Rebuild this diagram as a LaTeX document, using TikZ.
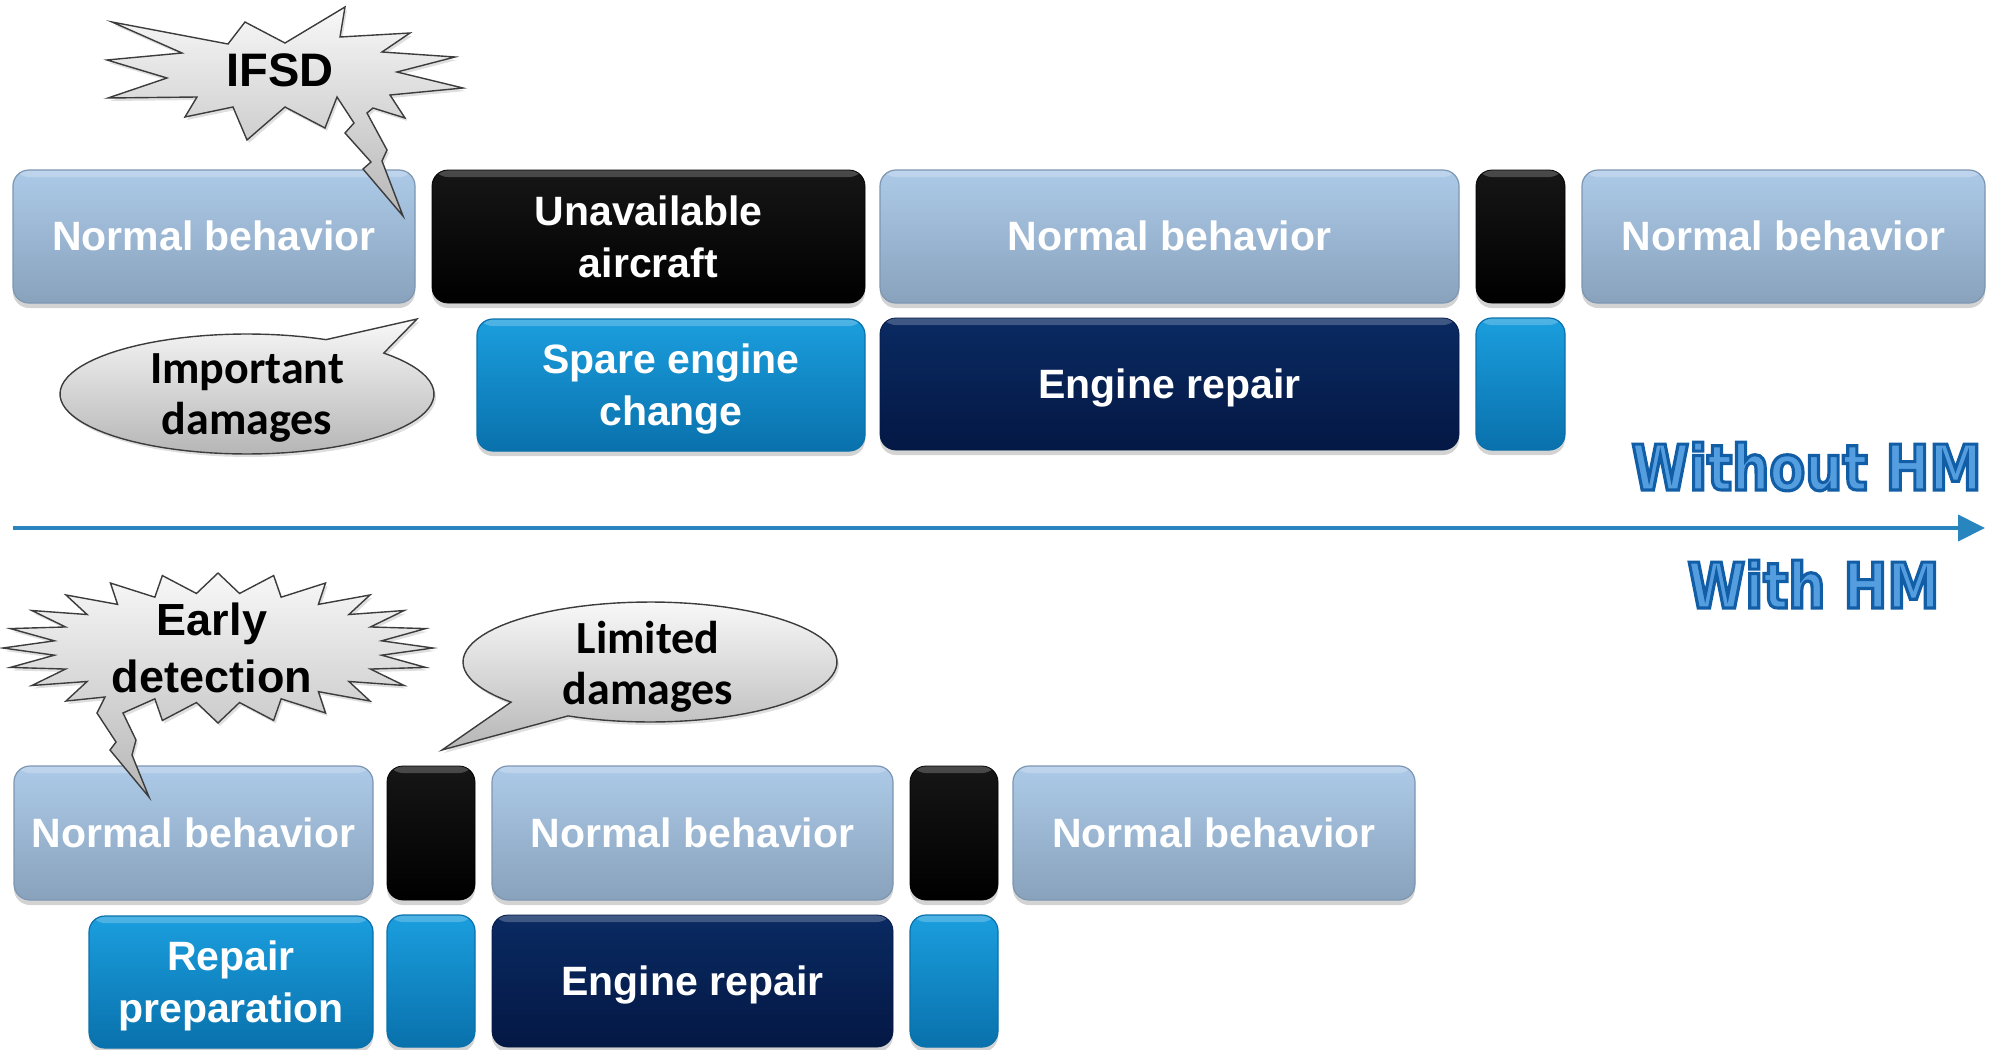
\documentclass[tikz,border=0pt]{standalone}
\usepackage{fontspec}
\setmainfont{Liberation Sans}
\newfontfamily\calfont{Carlito}
\newfontfamily\hmfont[FakeStretch=0.83,BoldFeatures={FakeBold=5}]{DejaVu Sans}
\usetikzlibrary{arrows.meta,shadows}

\definecolor{nbTop}{RGB}{172,202,232}
\definecolor{nbBot}{RGB}{137,162,188}
\definecolor{nbEdge}{RGB}{125,150,178}
\definecolor{blkTop}{RGB}{22,22,22}
\definecolor{blkBot}{RGB}{0,0,0}
\definecolor{bluTop}{RGB}{27,158,222}
\definecolor{bluBot}{RGB}{9,113,172}
\definecolor{navTop}{RGB}{10,42,98}
\definecolor{navBot}{RGB}{4,24,68}
\definecolor{axisC}{RGB}{40,133,190}
\definecolor{calTop}{RGB}{248,248,248}
\definecolor{calBot}{RGB}{182,182,182}
\definecolor{calEdge}{RGB}{60,60,60}

% outlined blue text: light fill, dark stroke (fake bold stroke)
\newcommand\hmOut[1]{\special{pdf:bcolor [0.33 0.62 0.88] [0.07 0.37 0.65]}#1\special{pdf:ecolor}}
\newcommand\lastline[1]{\raisebox{0pt}[\height][0pt]{#1}}

\tikzset{
  pbox/.style={rounded corners=8pt, inner sep=0pt, align=center, text=white,
    font=\fontsize{20.5pt}{26pt}\selectfont\bfseries,
    drop shadow={shadow xshift=0pt, shadow yshift=-2.5pt, opacity=0.35},
    path picture={\fill[white, opacity=0.22]
      (path picture bounding box.north west) rectangle
      ([yshift=-3.5pt]path picture bounding box.north east);}},
  wh/.style 2 args={minimum width=#1*0.5pt, minimum height=#2*0.5pt},
  one/.style={text height=18.6pt, text depth=4.35pt},
  nb/.style={pbox, top color=nbTop, bottom color=nbBot, draw=nbEdge, line width=0.6pt},
  blk/.style={pbox, top color=blkTop, bottom color=blkBot, draw=black},
  blu/.style={pbox, top color=bluTop, bottom color=bluBot, draw=bluBot, line width=0.6pt},
  nav/.style={pbox, top color=navTop, bottom color=navBot, draw=navBot},
  callout/.style={draw=calEdge, line width=0.7pt, top color=calTop, bottom color=calBot,
    line join=miter, drop shadow={shadow xshift=1pt, shadow yshift=-1.5pt, opacity=0.25}},
  burstlabel/.style={font=\fontsize{23.5pt}{28.5pt}\selectfont\bfseries, align=center, text=black, inner sep=0pt},
  bubblelabel/.style={font=\calfont\fontsize{23pt}{25.5pt}\selectfont\bfseries, align=center, text=black, inner sep=0pt},
  axisline/.style={draw=axisC, line width=2pt, -{Triangle[length=13.5pt,width=13pt]}},
  hm/.style={font=\hmfont\fontsize{31.5pt}{36pt}\selectfont\bfseries, anchor=base, inner sep=0pt},
}

\begin{document}
\begin{tikzpicture}[x=0.5pt,y=-0.5pt]
\useasboundingbox (0,0) rectangle (1993,1050);

% ---------- Without HM : top rows ----------
\node[nb, one, wh={402}{133}] (nbA1) at (214,236.5) {Normal behavior};
\node[blk, wh={433}{133}] (ua) at (648.5,236.5) {Unavailable\\aircraft};
\node[nb, one, wh={579}{133}] (nbA2) at (1169.5,236.5) {Normal behavior};
\node[blk, wh={89}{133}] (blkA) at (1520.5,236.5) {};
\node[nb, one, wh={403}{133}] (nbA3) at (1783.5,236.5) {Normal behavior};
\node[blu, wh={388}{132}] (spare) at (671,385) {Spare engine\\\lastline{change}};
\node[nav, one, wh={579}{132}] (erA) at (1169.5,384) {Engine repair};
\node[blu, wh={89}{132}] (bluA) at (1520.5,384) {};

% ---------- With HM : bottom rows ----------
\node[nb, one, wh={359}{134}] (nbB1) at (193.5,833) {Normal behavior};
\node[blk, wh={88}{134}] (blkB1) at (431,833) {};
\node[nb, one, wh={401}{134}] (nbB2) at (692.5,833) {Normal behavior};
\node[blk, wh={88}{134}] (blkB2) at (954,833) {};
\node[nb, one, wh={402}{134}] (nbB3) at (1214,833) {Normal behavior};
\node[blu, wh={284}{132}] (prep) at (231,982) {Repair\\\lastline{preparation}};
\node[blu, wh={88}{132}] (bluB1) at (431,981) {};
\node[nav, one, wh={401}{132}] (erB) at (692.5,981) {Engine repair};
\node[blu, wh={88}{132}] (bluB2) at (954,981) {};

% ---------- time axis ----------
\coordinate (axL) at (13,528);
\coordinate (axR) at (1985,528);
\draw[axisline] (axL) -- (axR);
\node[hm] (without) at (1806.5,490) {\hmOut{Without HM}};
\node[hm] (with) at (1813.5,608) {\hmOut{With HM}};

% ---------- IFSD burst ----------
\path[callout] (112,22) -- (228,44) -- (245,22) -- (285,43) -- (345,7) -- (340,37)
  -- (410,33) -- (382,52) -- (455,57) -- (397,72) -- (463,88) -- (390,95)
  -- (405,118) -- (373,108) -- (367,113) -- (387,150) -- (382,161) -- (403,216)
  -- (363,169) -- (371,162) -- (345,133) -- (354,123) -- (337,97) -- (325,128)
  -- (285,107) -- (247,140) -- (233,107) -- (185,117) -- (197,97) -- (108,98)
  -- (167,78) -- (107,60) -- (182,53) -- cycle;
\node[burstlabel] (ifsd) at (280,70) {IFSD};

% ---------- Important damages bubble ----------
\path[callout] plot[domain=65:403, samples=90, variable=\t]
  ({247+187*cos(\t)},{394-60*sin(\t)}) -- (417,319) -- cycle;
\node[bubblelabel] (impdam) at (247,398) {Important\\damages};

% ---------- Early detection burst ----------
\path[callout] (433,648)
  \foreach \i in {0,...,14} {
    -- ({218+165*cos(7.5+15*\i)},{648-55*sin(7.5+15*\i)})
    -- ({218+215*cos(15+15*\i)},{648-75*sin(15+15*\i)}) }
  -- (105,697) -- (97,713) -- (116,742) -- (110,750) -- (149,797)
  -- (132,755) -- (136,740) -- (123,713)
  \foreach \i in {16,...,23} {
    -- ({218+165*cos(7.5+15*\i)},{648-55*sin(7.5+15*\i)})
    -- ({218+215*cos(15+15*\i)},{648-75*sin(15+15*\i)}) }
  -- cycle;
\node[burstlabel, font=\fontsize{22.5pt}{28.5pt}\selectfont\bfseries] (early) at (212,648) {Early\\detection};

% ---------- Limited damages bubble ----------
\path[callout] plot[domain=244:582, samples=90, variable=\t]
  ({650+187*cos(\t)},{662-60*sin(\t)}) -- (442,750) -- cycle;
\node[bubblelabel] (limdam) at (648,667) {Limited\\damages};

\end{tikzpicture}
\end{document}
